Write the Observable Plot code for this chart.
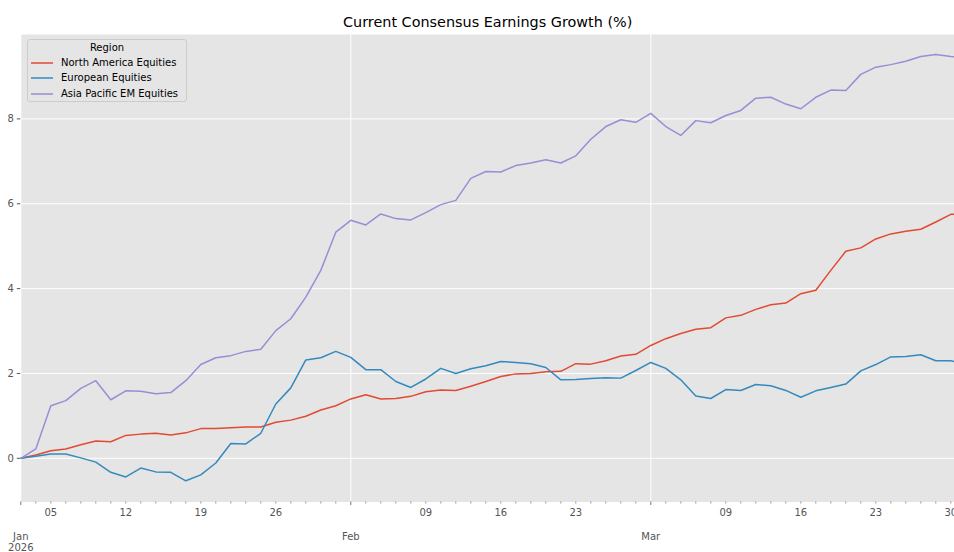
<!DOCTYPE html>
<html>
<head>
<meta charset="utf-8">
<script src="https://cdn.jsdelivr.net/npm/d3@7"></script>
<script src="https://cdn.jsdelivr.net/npm/@observablehq/plot@0.6"></script>
<style>
  html, body { margin: 0; padding: 0; background: white; overflow: hidden; }
  #wrap { position: relative; width: 954px; height: 552px; overflow: hidden; font-family: "DejaVu Sans", sans-serif; }
  #legend { position: absolute; left: 27px; top: 39px; width: 160px; height: 63px; box-sizing: border-box;
    background: rgba(229,229,229,0.8); border: 1px solid #cccccc; border-radius: 3px; font-size: 10px; color: #000; }
  #legend .ttl { position: absolute; left: 0; right: 0; top: 2px; text-align: center; line-height: 12px; }
  #legend .row { position: absolute; left: 0; height: 12px; line-height: 12px; white-space: nowrap; }
  #legend .sw { position: absolute; left: 3px; top: 0; width: 22px; height: 12px; }
  #legend .lb { position: absolute; left: 33px; top: 0; }
</style>
</head>
<body>
<div id="wrap"></div>
<script>
// ---- data ----
const title = "Current Consensus Earnings Growth (%)";
const legendTitle = "Region";
const regions = ["North America Equities", "European Equities", "Asia Pacific EM Equities"];
const colors = ["#E24A33", "#348ABD", "#988ED5"];

// business days, 2026-01-01 .. 2026-03-31
const startDate = "2026-01-01", endDate = "2026-03-31";

const northAmerica = [0, 0.08, 0.18, 0.22, 0.32, 0.41, 0.39, 0.54, 0.57, 0.59,
  0.55, 0.60, 0.70, 0.70, 0.72, 0.74, 0.74, 0.85, 0.90, 0.99,
  1.14, 1.24, 1.40, 1.50, 1.40, 1.41, 1.46, 1.57, 1.61, 1.60,
  1.70, 1.81, 1.93, 1.99, 2.00, 2.04, 2.05, 2.23, 2.22, 2.30,
  2.41, 2.45, 2.66, 2.82, 2.94, 3.04, 3.08, 3.31, 3.37, 3.51,
  3.62, 3.66, 3.88, 3.96, 4.43, 4.88, 4.96, 5.17, 5.29, 5.35,
  5.40, 5.57, 5.75, 5.77];
const european = [0, 0.05, 0.10, 0.10, 0.01, -0.09, -0.33, -0.44, -0.23, -0.32,
  -0.33, -0.53, -0.39, -0.11, 0.35, 0.34, 0.59, 1.28, 1.66, 2.32,
  2.37, 2.52, 2.38, 2.09, 2.09, 1.81, 1.67, 1.87, 2.12, 2.00,
  2.11, 2.18, 2.28, 2.26, 2.23, 2.14, 1.85, 1.86, 1.88, 1.90,
  1.89, 2.07, 2.26, 2.12, 1.85, 1.47, 1.41, 1.62, 1.60, 1.74,
  1.71, 1.60, 1.44, 1.59, 1.67, 1.75, 2.06, 2.21, 2.39, 2.40,
  2.44, 2.30, 2.30, 2.22];
const asiaPacific = [0, 0.22, 1.24, 1.36, 1.65, 1.83, 1.38, 1.59, 1.58, 1.52,
  1.55, 1.83, 2.21, 2.37, 2.42, 2.52, 2.57, 3.01, 3.29, 3.80,
  4.43, 5.33, 5.61, 5.50, 5.76, 5.65, 5.62, 5.79, 5.98, 6.08,
  6.60, 6.76, 6.75, 6.90, 6.96, 7.04, 6.96, 7.13, 7.52, 7.82,
  7.98, 7.92, 8.13, 7.82, 7.61, 7.96, 7.91, 8.08, 8.20, 8.49,
  8.51, 8.35, 8.24, 8.51, 8.68, 8.67, 9.05, 9.22, 9.28, 9.36,
  9.47, 9.52, 9.47, 9.46];

const yTicks = [0, 2, 4, 6, 8];
const weekTickDates = ["2026-01-05","2026-01-12","2026-01-19","2026-01-26","2026-02-09","2026-02-16","2026-02-23","2026-03-09","2026-03-16","2026-03-23","2026-03-30"];
const weekTickLabels = ["05","12","19","26","09","16","23","09","16","23","30"];
const monthTickDates = ["2026-01-01","2026-02-02","2026-03-02"];
const monthTickLabels = ["Jan\n2026","Feb","Mar"];

// ---- build ----
const fmt = d3.utcFormat("%Y-%m-%d");
const dates = d3.utcDays(new Date(startDate), d3.utcDay.offset(new Date(endDate), 1))
  .filter(d => d.getUTCDay() !== 0 && d.getUTCDay() !== 6).map(fmt);
const idx = s => dates.indexOf(s);
const weekIdx = weekTickDates.map(idx);
const monthIdx = monthTickDates.map(idx);
const minorIdx = dates.map((d, i) => i).filter(i => !monthIdx.includes(i));
const weekLabel = new Map(weekIdx.map((i, k) => [i, weekTickLabels[k]]));
const monthLabel = new Map(monthIdx.map((i, k) => [i, monthTickLabels[k]]));

const seriesValues = [northAmerica, european, asiaPacific];
const rows = seriesValues.flatMap((vals, s) => vals.map((v, i) => ({i, v, region: regions[s]})));

const marginLeft = 20.3, width = 954;
const pxPerDay = 15;
const xMax = (width - marginLeft) / pxPerDay;

const chart = Plot.plot({
  width, height: 552,
  marginLeft, marginRight: 0, marginTop: 34, marginBottom: 50.5,
  style: {background: "white", fontFamily: "DejaVu Sans", fontSize: "10px", color: "#555555", overflow: "hidden"},
  x: {domain: [0, xMax], axis: null, label: null},
  y: {domain: [-1.03, 9.99], axis: null, label: null},
  color: {domain: regions, range: colors},
  marks: [
    Plot.frame({fill: "#E5E5E5", stroke: null}),
    Plot.gridY(yTicks, {stroke: "white", strokeOpacity: 1, strokeWidth: 1}),
    Plot.gridX(monthIdx, {stroke: "white", strokeOpacity: 1, strokeWidth: 1}),
    Plot.axisY(yTicks, {label: null, tickSize: 3.5, tickPadding: 3.5, stroke: "#555555", fill: "#555555", fontSize: 10, tickFormat: d => String(d)}),
    Plot.axisX(minorIdx, {label: null, tickSize: 2, stroke: "#555555", strokeWidth: 0.6, tickFormat: () => ""}),
    Plot.axisX(monthIdx, {label: null, tickSize: 3.5, stroke: "#555555", strokeWidth: 0.8, tickFormat: () => ""}),
    Plot.axisX(weekIdx, {label: null, tickSize: 0, tickPadding: 6.8, fill: "#555555", fontSize: 10, tickFormat: i => weekLabel.get(i)}),
    Plot.axisX(monthIdx, {label: null, tickSize: 0, tickPadding: 30.6, fill: "#555555", fontSize: 10, lineHeight: 1.1, tickFormat: i => monthLabel.get(i)}),
    Plot.lineY(rows, {x: "i", y: "v", z: "region", stroke: "region", strokeWidth: 1.5, clip: true}),
    Plot.text([title], {frameAnchor: "top", dy: -12.5, fontSize: 14.4, fill: "#000", lineAnchor: "middle"})
  ]
});

const wrap = document.getElementById("wrap");
wrap.appendChild(chart);

// legend
const leg = document.createElement("div");
leg.id = "legend";
leg.innerHTML = `<div class="ttl">${legendTitle}</div>` + regions.map((r, k) =>
  `<div class="row" style="top:${17 + k * 15.4}px"><svg class="sw" width="22" height="12"><line x1="0" x2="22" y1="6" y2="6" stroke="${colors[k]}" stroke-width="1.5"/></svg><span class="lb">${r}</span></div>`).join("");
wrap.appendChild(leg);
</script>
</body>
</html>
